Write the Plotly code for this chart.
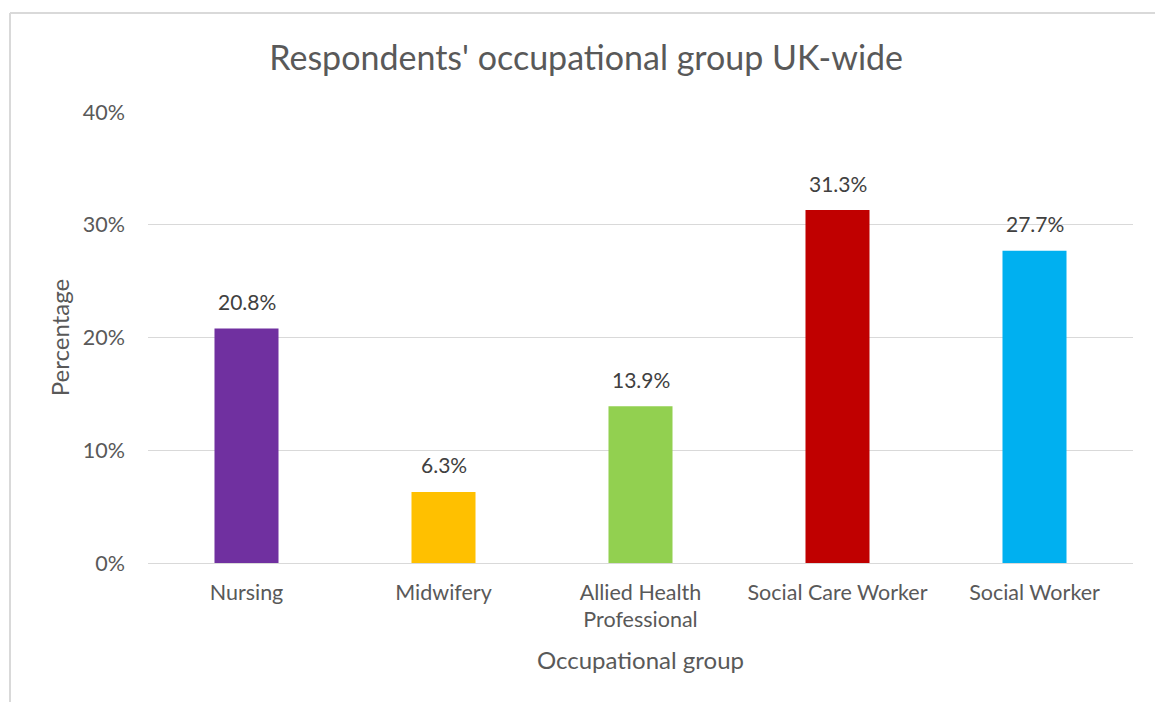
import plotly.graph_objects as go

categories = ["Nursing", "Midwifery", "Allied Health<br>Professional", "Social Care Worker", "Social Worker"]
percentages = [20.8, 6.3, 13.9, 31.3, 27.7]
bar_colors = ["#7030A0", "#FFC000", "#92D050", "#C00000", "#00B0F0"]
y_ticks = [0, 10, 20, 30, 40]
y_tick_labels = ["0%", "10%", "20%", "30%", "40%"]

FONT = "Lato, 'Open Sans', sans-serif"
W, H = 1155, 702
ML, MR, MT, MB = 148, 22, 112, 139
pw, ph = W - ML - MR, H - MT - MB

fig = go.Figure(
    go.Bar(
        x=categories,
        y=percentages,
        marker=dict(color=bar_colors, line=dict(width=0)),
        hoverinfo="x+y",
    )
)

# value labels above each bar
for cat, val in zip(categories, percentages):
    fig.add_annotation(
        x=cat, y=val, xref="x", yref="y",
        text=f"{val:.1f}%", showarrow=False,
        yanchor="middle", yshift=27,
        font=dict(family=FONT, size=21, color="#404040"),
    )

# chart-area frame (left and top edges)
def px_to_paper_x(px):
    return (px - ML) / pw

def px_to_paper_y(py):
    return 1 - (py - MT) / ph

frame = dict(color="#D9D9D9", width=2)
fig.add_shape(type="line", xref="paper", yref="paper",
              x0=px_to_paper_x(10), x1=px_to_paper_x(W + 5),
              y0=px_to_paper_y(13), y1=px_to_paper_y(13), line=frame)
fig.add_shape(type="line", xref="paper", yref="paper",
              x0=px_to_paper_x(10), x1=px_to_paper_x(10),
              y0=px_to_paper_y(13), y1=px_to_paper_y(H + 5), line=frame)

fig.update_layout(
    width=W,
    height=H,
    margin=dict(l=ML, r=MR, t=MT, b=MB, autoexpand=False),
    paper_bgcolor="white",
    plot_bgcolor="white",
    showlegend=False,
    bargap=0.675,
    font=dict(family=FONT, color="#595959"),
    title=dict(
        text="Respondents' occupational group UK-wide",
        x=0.5075, xanchor="center",
        y=1 - 58 / H, yanchor="middle",
        font=dict(family=FONT, size=34, color="#595959"),
    ),
    xaxis=dict(
        showgrid=False,
        showline=False,
        ticks="",
        tickfont=dict(family=FONT, size=21.5, color="#595959"),
        ticklabelstandoff=14,
        title=dict(text="Occupational group", standoff=20,
                   font=dict(family=FONT, size=24, color="#595959")),
    ),
    yaxis=dict(
        range=[0, 40],
        tickvals=y_ticks,
        ticktext=y_tick_labels,
        showgrid=True,
        gridcolor="#D9D9D9",
        gridwidth=1.3,
        zeroline=True,
        zerolinecolor="#D9D9D9",
        zerolinewidth=1.3,
        showline=False,
        ticks="",
        ticklabelstandoff=22,
        tickfont=dict(family=FONT, size=21.5, color="#595959"),
        title=dict(text="Percentage", standoff=6,
                   font=dict(family=FONT, size=24, color="#595959")),
    ),
)

fig.write_html("out.html")
